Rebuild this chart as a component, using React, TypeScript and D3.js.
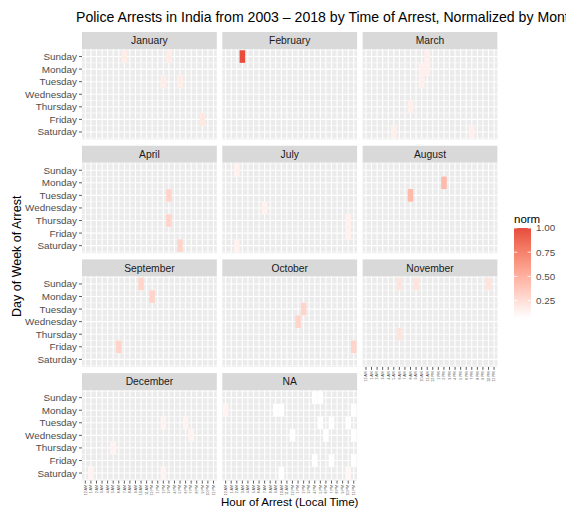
import * as d3 from "d3";

const facets = ["January", "February", "March", "April", "July", "August", "September", "October", "November", "December", "NA"];
const days = ["Sunday", "Monday", "Tuesday", "Wednesday", "Thursday", "Friday", "Saturday"];
const hours = [
  "12 AM", "1 AM", "2 AM", "3 AM", "4 AM", "5 AM", "6 AM", "7 AM", "8 AM", "9 AM", "10 AM", "11 AM",
  "12 PM", "1 PM", "2 PM", "3 PM", "4 PM", "5 PM", "6 PM", "7 PM", "8 PM", "9 PM", "10 PM", "11 PM",
];
const legendBreaks = [0.25, 0.5, 0.75, 1.0];

// [hour index, day index, norm]
const january = [[7, 0, 0.17], [15, 0, 0.17], [14, 2, 0.17], [17, 2, 0.17], [21, 5, 0.2]];
const february = [[3, 0, 1.0]];
const march = [[11, 0, 0.15], [11, 1, 0.15], [10, 1, 0.15], [10, 2, 0.15], [8, 4, 0.15], [5, 6, 0.15], [19, 6, 0.15]];
const april = [[15, 2, 0.3], [15, 4, 0.3], [17, 6, 0.3]];
const july = [[2, 0, 0.14], [7, 3, 0.14], [22, 4, 0.14], [22, 5, 0.14], [2, 6, 0.14]];
const august = [[8, 2, 0.45], [14, 1, 0.45]];
const september = [[10, 0, 0.3], [12, 1, 0.3], [6, 5, 0.3]];
const october = [[14, 2, 0.3], [13, 3, 0.3], [23, 5, 0.3]];
const november = [[6, 0, 0.22], [9, 0, 0.22], [22, 0, 0.22], [6, 4, 0.22]];
const december = [[14, 2, 0.13], [18, 2, 0.13], [19, 3, 0.13], [5, 4, 0.13], [1, 6, 0.13], [14, 6, 0.13]];
const naTiles = [
  [0, 1, 0.13], [9, 1, 0.07], [10, 1, 0.07], [16, 0, 0.07], [17, 0, 0.07], [23, 1, 0.07],
  [17, 2, 0.07], [19, 2, 0.07], [22, 2, 0.07], [12, 3, 0.07], [18, 3, 0.07], [23, 3, 0.07],
  [16, 5, 0.07], [19, 5, 0.07], [23, 5, 0.07], [10, 6, 0.07], [22, 6, 0.11],
];
const facetTiles = [january, february, march, april, july, august, september, october, november, december, naTiles];

const normMin = 0.07;
const normMax = 1.0;

const font = "'Liberation Sans', Arial, sans-serif";

export default function App() {
  const width = 566;
  const height = 510;

  const left = 82;
  const colPitch = 140.3;
  const panelW = 134.8;
  const top = 32;
  const rowPitch = 113.7;
  const stripH = 17;
  const bodyH = 90.5;

  const x = d3.scaleBand().domain(hours).range([0, panelW]).paddingInner(0).paddingOuter(0.1);
  const y = d3.scaleBand().domain(days).range([0, bodyH]).paddingInner(0).paddingOuter(0.1);

  const color = d3.scaleLinear<string>()
    .domain([normMin, normMax])
    .range(["#FFFFFF", "#E74C3C"])
    .interpolate(d3.interpolateLab);

  const lastRow = Math.floor((facets.length - 1) / 3);

  // legend
  const legX = 514;
  const legTop = 228;
  const legBottom = 318;
  const legW = 17;
  const ly = d3.scaleLinear().domain([normMin, normMax]).range([legBottom, legTop]);
  const gradStops = d3.range(0, 1.0001, 0.1);

  return (
    <svg width={width} height={height} style={{ position: "absolute", left: 0, top: 0, background: "#fff" }}>
      <defs>
        <linearGradient id="legGrad" x1="0" y1="1" x2="0" y2="0">
          {gradStops.map(t => (
            <stop key={t} offset={t} stopColor={color(normMin + t * (normMax - normMin))} />
          ))}
        </linearGradient>
      </defs>

      {/* title runs past the right edge, as in the original export */}
      <text x={76} y={22} fontFamily={font} fontSize={14.1} fill="#000">
        Police Arrests in India from 2003 – 2018 by Time of Arrest, Normalized by Month
      </text>

      {facets.map((name, i) => {
        const col = i % 3;
        const row = Math.floor(i / 3);
        const px = left + col * colPitch;
        const py = top + row * rowPitch;
        const by = py + stripH;
        const hasXAxis = row === lastRow || i + 3 >= facets.length;
        return (
          <g key={name}>
            <rect x={px} y={py} width={panelW} height={stripH} fill="#D9D9D9" />
            <text x={px + panelW / 2} y={py + stripH / 2 + 3.6} textAnchor="middle" fontFamily={font} fontSize={10.3} fill="#1A1A1A">
              {name}
            </text>
            <g transform={`translate(${px},${by})`}>
              <rect width={panelW} height={bodyH} fill="#EBEBEB" />
              {days.map(d => (
                <line key={d} x1={0} x2={panelW} y1={y(d)! + y.bandwidth() / 2} y2={y(d)! + y.bandwidth() / 2} stroke="#fff" strokeWidth={1.1} />
              ))}
              {days.map(d => (
                <line key={"m" + d} x1={0} x2={panelW} y1={y(d)!} y2={y(d)!} stroke="#fff" strokeWidth={0.6} />
              ))}
              <line x1={0} x2={panelW} y1={y(days[6])! + y.bandwidth()} y2={y(days[6])! + y.bandwidth()} stroke="#fff" strokeWidth={0.6} />
              {hours.map(h => (
                <line key={h} y1={0} y2={bodyH} x1={x(h)! + x.bandwidth() / 2} x2={x(h)! + x.bandwidth() / 2} stroke="#fff" strokeWidth={1.1} />
              ))}
              {facetTiles[i].map(([hi, di, v], k) => (
                <rect
                  key={k}
                  x={x(hours[hi])!}
                  y={y(days[di])!}
                  width={x.bandwidth()}
                  height={y.bandwidth()}
                  fill={color(v)}
                />
              ))}
            </g>
            {col === 0 && days.map(d => (
              <g key={d}>
                <line x1={px - 3} x2={px} y1={by + y(d)! + y.bandwidth() / 2} y2={by + y(d)! + y.bandwidth() / 2} stroke="#333" strokeWidth={0.8} />
                <text x={px - 5} y={by + y(d)! + y.bandwidth() / 2 + 3.5} textAnchor="end" fontFamily={font} fontSize={9.9} fill="#4D4D4D">
                  {d}
                </text>
              </g>
            ))}
            {hasXAxis && hours.map(h => {
              const cx = px + x(h)! + x.bandwidth() / 2;
              const ty = by + bodyH;
              return (
                <g key={h}>
                  <line x1={cx} x2={cx} y1={ty} y2={ty + 3} stroke="#333" strokeWidth={0.8} />
                  <text transform={`translate(${cx + 1.3},${ty + 4.5}) rotate(-90)`} textAnchor="end" fontFamily={font} fontSize={3.6} fill="#4D4D4D">
                    {h}
                  </text>
                </g>
              );
            })}
          </g>
        );
      })}

      <text transform={`translate(21,${top + (lastRow * rowPitch + stripH + bodyH) / 2}) rotate(-90)`} textAnchor="middle" fontFamily={font} fontSize={12.5} fill="#000">
        Day of Week of Arrest
      </text>
      <text x={left + (2 * colPitch + panelW) / 2} y={506} textAnchor="middle" fontFamily={font} fontSize={11.5} fill="#000">
        Hour of Arrest (Local Time)
      </text>

      <text x={legX} y={223} fontFamily={font} fontSize={11.5} fill="#000">norm</text>
      <rect x={legX} y={legTop} width={legW} height={legBottom - legTop} fill="url(#legGrad)" />
      {legendBreaks.map(b => (
        <g key={b}>
          <line x1={legX} x2={legX + 3.4} y1={ly(b)} y2={ly(b)} stroke="#fff" strokeWidth={0.8} />
          <line x1={legX + legW - 3.4} x2={legX + legW} y1={ly(b)} y2={ly(b)} stroke="#fff" strokeWidth={0.8} />
          <text x={legX + legW + 5} y={ly(b) + 3.4} fontFamily={font} fontSize={9.9} fill="#4D4D4D">
            {b.toFixed(2)}
          </text>
        </g>
      ))}
    </svg>
  );
}
